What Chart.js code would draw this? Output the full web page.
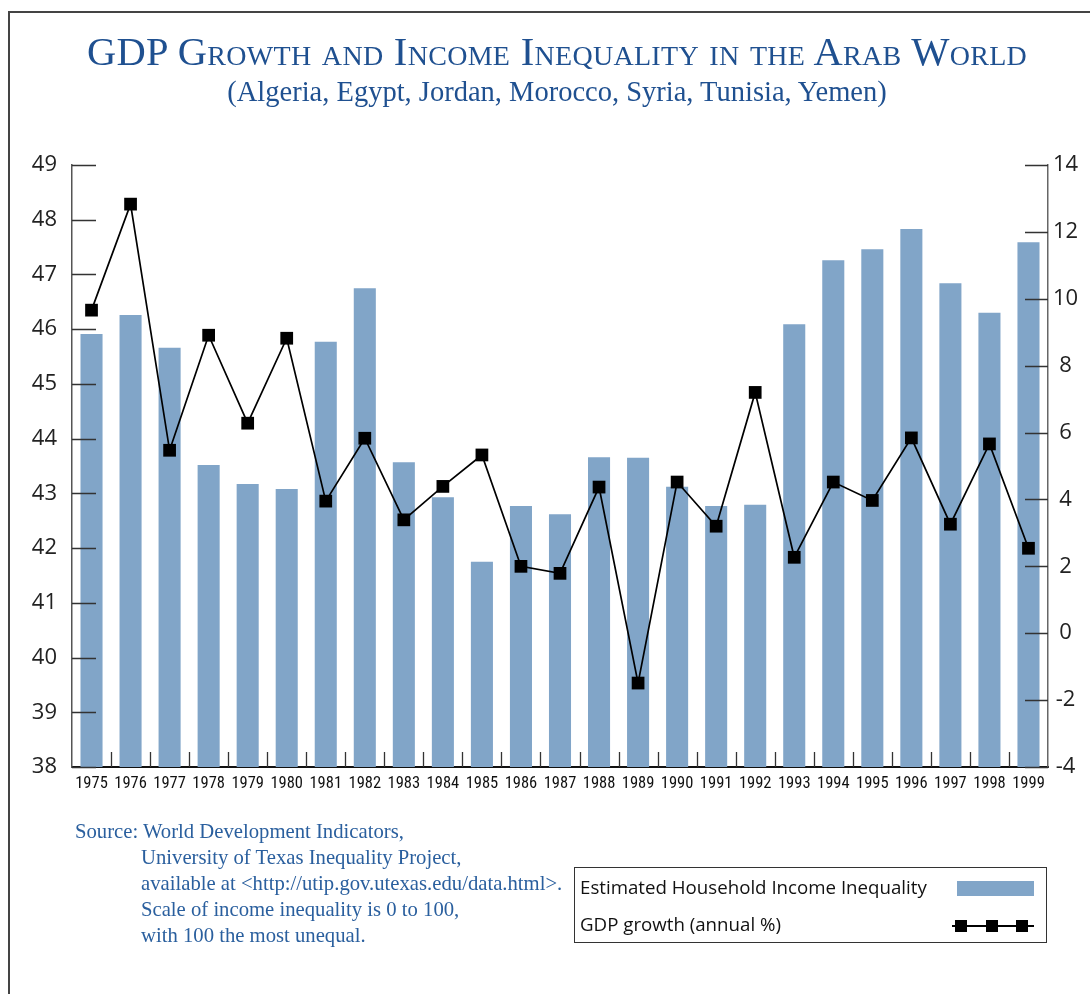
<!DOCTYPE html>
<html>
<head>
<meta charset="utf-8">
<script src="https://cdn.jsdelivr.net/npm/chart.js@4.4.1/dist/chart.umd.min.js"></script>
<style>
  html, body { margin: 0; padding: 0; background: #fff; }
  #wrap { position: relative; width: 1090px; height: 994px; overflow: hidden; background: #fff; }
  #frame { position: absolute; left: 8px; top: 11px; width: 1090px; height: 1000px; border-left: 2px solid #444; border-top: 2px solid #444; }
  canvas { position: absolute; left: 0; top: 0; }
  .title { position: absolute; left: 0; width: 1114px; text-align: center; color: #1f5090; font-family: "Liberation Serif", "DejaVu Serif", serif; white-space: nowrap; }
  #t1 { top: 28px; font-size: 40.5px; font-variant: small-caps; letter-spacing: 0.3px; }
  #t2 { top: 76px; font-size: 28.5px; }
  #source { position: absolute; left: 75px; top: 818px; color: #2a5f9e; font-family: "Liberation Serif", serif; font-size: 20.7px; line-height: 26px; white-space: nowrap; }
  #source .ind { padding-left: 66px; }
  #legend { position: absolute; left: 574px; top: 867px; width: 471px; height: 74px; border: 1.5px solid #333; font-family: "Open Sans", "DejaVu Sans", sans-serif; font-size: 18.7px; color: #111; }
  .lt { position: absolute; left: 5px; white-space: nowrap; }
  #sw { position: absolute; left: 382px; top: 13px; width: 77px; height: 15px; background: #81a5c8; }
  #ln { position: absolute; left: 377px; top: 57px; width: 82px; height: 1.5px; background: #000; }
  .sq { position: absolute; top: 52px; width: 12px; height: 12px; background: #000; }
</style>
</head>
<body>
<div id="wrap">
  <div id="frame"></div>
  <canvas id="c" width="1090" height="994"></canvas>
  <div class="title" id="t1">GDP Growth and Income Inequality in the Arab World</div>
  <div class="title" id="t2">(Algeria, Egypt, Jordan, Morocco, Syria, Tunisia, Yemen)</div>
  <div id="source">
    <div>Source: World Development Indicators,</div>
    <div class="ind">University of Texas Inequality Project,</div>
    <div class="ind">available at &lt;http://utip.gov.utexas.edu/data.html&gt;.</div>
    <div class="ind">Scale of income inequality is 0 to 100,</div>
    <div class="ind">with 100 the most unequal.</div>
  </div>
  <div id="legend">
    <div class="lt" style="top:6px">Estimated Household Income Inequality</div>
    <div class="lt" style="top:43px">GDP growth (annual %)</div>
    <div id="sw"></div>
    <div id="ln"></div>
    <div class="sq" style="left:380px"></div>
    <div class="sq" style="left:411px"></div>
    <div class="sq" style="left:441px"></div>
  </div>
</div>
<script>
const years = ["1975","1976","1977","1978","1979","1980","1981","1982","1983","1984","1985","1986","1987","1988","1989","1990","1991","1992","1993","1994","1995","1996","1997","1998","1999"];
const inequality = [45.91,46.26,45.66,43.52,43.17,43.08,45.77,46.75,43.57,42.93,41.75,42.77,42.62,43.66,43.65,43.12,42.77,42.79,46.09,47.26,47.46,47.83,46.84,46.30,47.59];
const gdpGrowth = [9.66,12.83,5.47,8.91,6.28,8.82,3.95,5.83,3.39,4.39,5.33,2.00,1.79,4.37,-1.49,4.52,3.20,7.20,2.27,4.52,3.97,5.84,3.26,5.66,2.54];
const leftTicks = [38,39,40,41,42,43,44,45,46,47,48,49];
const rightTicks = [-4,-2,0,2,4,6,8,10,12,14];

const inwardTicks = {
  id: 'inwardTicks',
  afterDatasetsDraw(chart) {
    const ctx = chart.ctx, a = chart.chartArea;
    const x = chart.scales.x, y = chart.scales.y, y1 = chart.scales.y1;
    ctx.save();
    ctx.lineWidth = 1.3;
    ctx.strokeStyle = '#333';
    ctx.beginPath();
    leftTicks.forEach(v => { const p = Math.round(y.getPixelForValue(v)) + 0.5; ctx.moveTo(a.left, p); ctx.lineTo(a.left + 24, p); });
    rightTicks.forEach(v => { const p = Math.round(y1.getPixelForValue(v)) + 0.5; ctx.moveTo(a.right - 23, p); ctx.lineTo(a.right, p); });
    for (let i = 1; i < years.length; i++) {
      const p = Math.round((x.getPixelForValue(i - 1) + x.getPixelForValue(i)) / 2) + 0.5;
      ctx.moveTo(p, a.bottom); ctx.lineTo(p, a.bottom - 15);
    }
    ctx.stroke();
    ctx.restore();
  }
};

new Chart(document.getElementById('c'), {
  data: {
    labels: years,
    datasets: [
      {
        type: 'line', label: 'GDP growth (annual %)', data: gdpGrowth, yAxisID: 'y1', order: 0,
        borderColor: '#000', borderWidth: 1.7, pointStyle: 'rect', pointRadius: 9, pointBackgroundColor: '#000',
        pointBorderColor: '#000', pointBorderWidth: 0, tension: 0, fill: false
      },
      {
        type: 'bar', label: 'Estimated Household Income Inequality', data: inequality, yAxisID: 'y', order: 1,
        backgroundColor: '#81a5c8', borderWidth: 0, categoryPercentage: 1.0, barPercentage: 0.565
      }
    ]
  },
  options: {
    responsive: false, animation: false, devicePixelRatio: 1,
    layout: { padding: { top: 165, bottom: 197, left: 0, right: 0 } },
    plugins: { legend: { display: false }, title: { display: false }, tooltip: { enabled: false } },
    scales: {
      x: {
        type: 'category', offset: true,
        grid: { display: true, drawOnChartArea: false, drawTicks: false, offset: true },
        border: { display: true, color: '#111', width: 2 },
        ticks: { font: { family: '"Roboto Condensed", "DejaVu Sans Condensed", "Liberation Sans", sans-serif', size: 16.5 }, color: '#111', padding: 7, maxRotation: 0, autoSkip: false },
        afterFit(s) { s.height = 30; }
      },
      y: {
        type: 'linear', position: 'left', min: 38, max: 49,
        grid: { drawOnChartArea: false, drawTicks: false },
        border: { display: true, color: '#555', width: 1.5 },
        ticks: { stepSize: 1, font: { family: '"Open Sans", "DejaVu Sans", sans-serif', size: 22 }, color: '#222', padding: 15 },
        afterFit(s) { s.width = 72; }
      },
      y1: {
        type: 'linear', position: 'right', min: -4, max: 14,
        grid: { drawOnChartArea: false, drawTicks: false },
        border: { display: true, color: '#666', width: 1.5 },
        ticks: { stepSize: 2, font: { family: '"Open Sans", "DejaVu Sans", sans-serif', size: 22 }, color: '#222', padding: 5, crossAlign: 'center' },
        afterFit(s) { s.width = 42; }
      }
    }
  },
  plugins: [inwardTicks]
});
</script>
</body>
</html>
